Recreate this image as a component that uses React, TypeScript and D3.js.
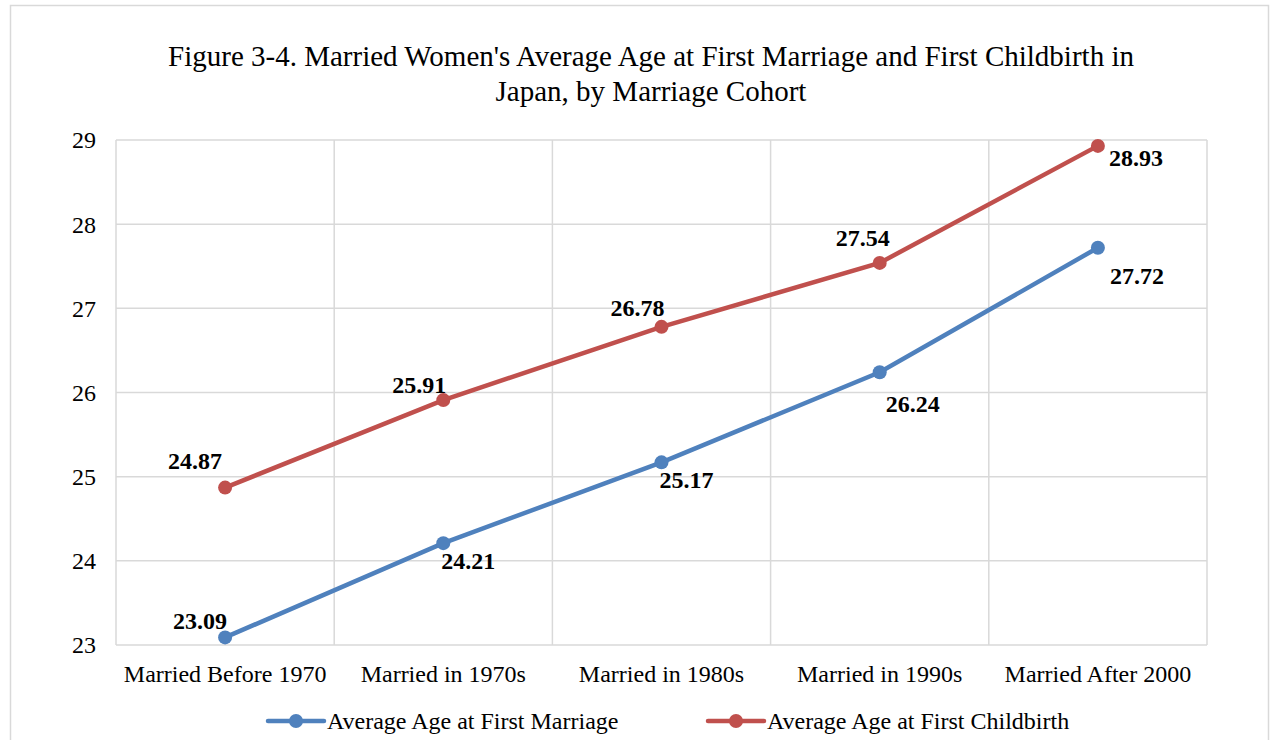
import React, { useEffect, useRef } from 'react';
import * as d3 from 'd3';

const categories = [
  'Married Before 1970',
  'Married in 1970s',
  'Married in 1980s',
  'Married in 1990s',
  'Married After 2000',
];
const firstMarriage = [23.09, 24.21, 25.17, 26.24, 27.72];
const firstChildbirth = [24.87, 25.91, 26.78, 27.54, 28.93];
const yTicks = [23, 24, 25, 26, 27, 28, 29];

const seriesNames = ['Average Age at First Marriage', 'Average Age at First Childbirth'];
const seriesColors = ['#4f81bd', '#c0504d'];

// label offsets from the point, like Excel placed them
const marriageLabelOffsets = [[-25, -17], [25, 17], [25, 17], [33, 31], [39, 28]];
const childbirthLabelOffsets = [[-30, -27], [-24, -15], [-24, -19], [-17, -25], [38, 12]];

const W = 1274;
const H = 740;
const FONT = '"Liberation Serif", "Times New Roman", serif';

export default function App() {
  const svgRef = useRef<SVGSVGElement>(null);

  useEffect(() => {
    if (!svgRef.current) return;
    const svg = d3.select(svgRef.current);
    svg.selectAll('*').remove();

    const plot = { left: 116, right: 1207, top: 140, bottom: 645 };

    // outer chart border
    svg.append('rect')
      .attr('x', 10.5).attr('y', 5.5)
      .attr('width', 1258).attr('height', 760)
      .attr('fill', 'white')
      .attr('stroke', '#d9d9d9')
      .attr('stroke-width', 1.5);

    const x = d3.scaleBand<string>()
      .domain(categories)
      .range([plot.left, plot.right]);

    const y = d3.scaleLinear()
      .domain([23, 29])
      .range([plot.bottom, plot.top]);

    const cx = (c: string) => (x(c) || 0) + x.bandwidth() / 2;

    // title
    const title = svg.append('text')
      .attr('text-anchor', 'middle')
      .attr('font-family', FONT)
      .attr('font-size', 29)
      .attr('fill', '#000');
    title.append('tspan').attr('x', 651).attr('y', 66)
      .text("Figure 3-4. Married Women's Average Age at First Marriage and First Childbirth in");
    title.append('tspan').attr('x', 651).attr('y', 101)
      .text('Japan, by Marriage Cohort');

    // horizontal gridlines
    svg.append('g')
      .selectAll('line')
      .data(yTicks)
      .join('line')
      .attr('x1', plot.left).attr('x2', plot.right)
      .attr('y1', d => y(d)).attr('y2', d => y(d))
      .attr('stroke', '#d9d9d9')
      .attr('stroke-width', 1.5);

    // vertical gridlines at category boundaries
    const bounds = categories.map(c => x(c) || 0).concat([plot.right]);
    svg.append('g')
      .selectAll('line')
      .data(bounds)
      .join('line')
      .attr('x1', d => d).attr('x2', d => d)
      .attr('y1', plot.top).attr('y2', plot.bottom)
      .attr('stroke', '#d9d9d9')
      .attr('stroke-width', 1.5);

    // y tick labels
    svg.append('g')
      .selectAll('text')
      .data(yTicks)
      .join('text')
      .attr('x', 96)
      .attr('y', d => y(d))
      .attr('dy', '0.35em')
      .attr('text-anchor', 'end')
      .attr('font-family', FONT)
      .attr('font-size', 24)
      .text(d => d);

    // x tick labels
    svg.append('g')
      .selectAll('text')
      .data(categories)
      .join('text')
      .attr('x', d => cx(d))
      .attr('y', 682)
      .attr('text-anchor', 'middle')
      .attr('font-family', FONT)
      .attr('font-size', 24)
      .text(d => d);

    const line = d3.line<number>()
      .x((_, i) => cx(categories[i]))
      .y(d => y(d));

    const series = [
      { values: firstMarriage, color: seriesColors[0], offsets: marriageLabelOffsets },
      { values: firstChildbirth, color: seriesColors[1], offsets: childbirthLabelOffsets },
    ];

    series.forEach(s => {
      svg.append('path')
        .datum(s.values)
        .attr('d', line)
        .attr('fill', 'none')
        .attr('stroke', s.color)
        .attr('stroke-width', 4.5)
        .attr('stroke-linecap', 'round');

      svg.append('g')
        .selectAll('circle')
        .data(s.values)
        .join('circle')
        .attr('cx', (_, i) => cx(categories[i]))
        .attr('cy', d => y(d))
        .attr('r', 7)
        .attr('fill', s.color);

      svg.append('g')
        .selectAll('text')
        .data(s.values)
        .join('text')
        .attr('x', (_, i) => cx(categories[i]) + s.offsets[i][0])
        .attr('y', (d, i) => y(d) + s.offsets[i][1])
        .attr('dy', '0.35em')
        .attr('text-anchor', 'middle')
        .attr('font-family', FONT)
        .attr('font-size', 24)
        .attr('font-weight', 'bold')
        .text(d => d.toFixed(2));
    });

    // legend
    const legendX = [268, 708];
    seriesNames.forEach((name, i) => {
      const g = svg.append('g').attr('transform', `translate(${legendX[i]},721)`);
      g.append('line')
        .attr('x1', 0).attr('x2', 56)
        .attr('stroke', seriesColors[i])
        .attr('stroke-width', 4.5)
        .attr('stroke-linecap', 'round');
      g.append('circle').attr('cx', 28).attr('r', 7).attr('fill', seriesColors[i]);
      g.append('text')
        .attr('x', 59)
        .attr('dy', '0.35em')
        .attr('font-family', FONT)
        .attr('font-size', 24)
        .text(name);
    });
  }, []);

  return (
    <svg
      ref={svgRef}
      width={W}
      height={H}
      style={{ position: 'absolute', left: 0, top: 0, background: 'white' }}
    />
  );
}
